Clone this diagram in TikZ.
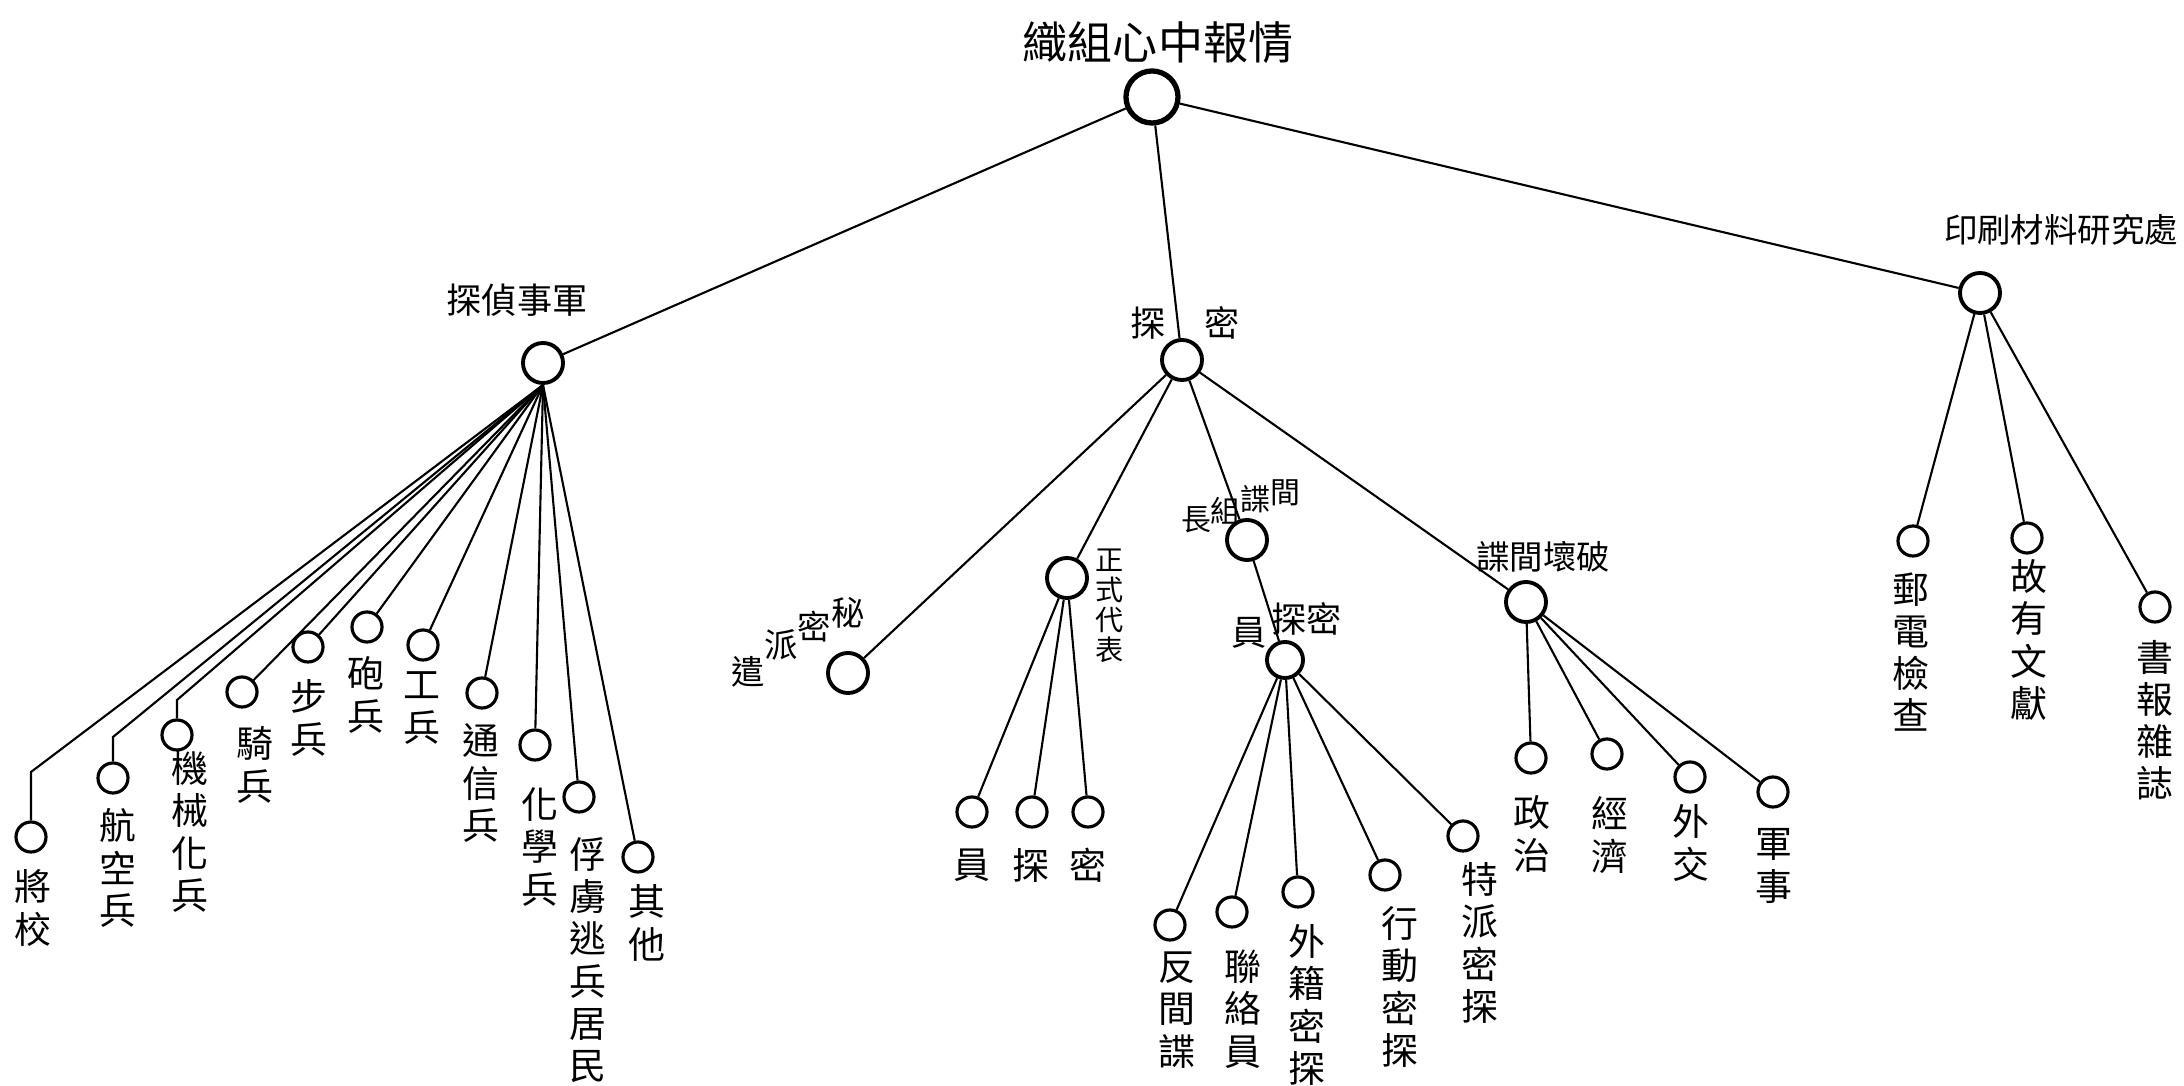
\documentclass[tikz,border=0pt]{standalone}
\usepackage{fontspec}
\newfontfamily\cjk{Noto Sans CJK TC}

\begin{document}
\begin{tikzpicture}[x=0.01cm,y=-0.01cm,line width=0.6pt,
    big/.style={circle,draw,line width=1.1pt,minimum size=4mm,inner sep=0},
    leaf/.style={circle,draw,line width=0.9pt,minimum size=3mm,inner sep=0},
    vtxt/.style={font=\cjk\fontsize{10.5}{12}\selectfont,align=center,inner sep=0},
    htxt/.style={font=\cjk\fontsize{9.5}{10}\selectfont,inner sep=0}]
  \useasboundingbox (0,0) rectangle (2184,1086);

  % top level
  \node[big,minimum size=5.2mm,line width=1.5pt] (root) at (1152,97) {};
  \node[font=\cjk\fontsize{12.8}{14}\selectfont,inner sep=0] (rootl) at (1158,43) {織組心中報情};
  \node[big] (mil) at (543,363) {};
  \node[htxt,font=\cjk\fontsize{10}{11}\selectfont] (mill) at (517,300) {探偵事軍};
  \node[big] (spy) at (1182,360) {};
  \node[htxt,font=\cjk\fontsize{10}{11}\selectfont] (spyl) at (1185,323) {探\hspace{1.1em}密};
  \node[big] (pr) at (1980,293) {};
  \node[htxt] (prl) at (2061,230) {印刷材料研究處};
  \draw (root) -- (mil);
  \draw (root) -- (spy);
  \draw (root) -- (pr);

  % military branch
  \foreach \n/\x/\y/\lx/\ly/\lab in {qi/242/692/255/765/{騎\\兵},
      bu/308/647/309/718/{步\\兵}, pa/367/627/366/695/{砲\\兵},
      gg/423/645/422/708/{工\\兵}, tx/482/693/481/783/{通\\信\\兵},
      hx/535/745/540/847/{化\\學\\兵},
      fl/579/797/588/960/{俘\\虜\\逃\\兵\\居\\民},
      qt/638/857/647/923/{其\\他}}{
    \node[leaf] (\n) at (\x,\y) {};
    \node[vtxt] (t\n) at (\lx,\ly) {\lab};
    \draw (mil.south) -- (\n);
  }
  \foreach \n/\x/\y/\by/\lx/\ly/\lab in {jx/31/837/772/33/908/{將\\校},
      hk/113/778/737/118/868/{航\\空\\兵},
      jy/177/735/700/190/832/{機\\械\\化\\兵}}{
    \node[leaf] (\n) at (\x,\y) {};
    \node[vtxt] (t\n) at (\lx,\ly) {\lab};
    \draw (mil.south) -- (\n |- 0,\by) -- (\n);
  }

  % secret agents
  \node[big] (mp) at (848,673) {};
  \node[htxt,anchor=base west] (mpl) at (730,685)
    {遣\raisebox{7.7pt}{派}\raisebox{12.8pt}{密}\raisebox{16.8pt}{秘}};
  \node[big] (zs) at (1067,578) {};
  \node[vtxt,font=\cjk\fontsize{8}{8.5}\selectfont] (zsl) at (1110,606) {正\\式\\代\\表};
  \node[big] (jz) at (1247,540) {};
  \node[htxt,font=\cjk\fontsize{8.5}{9}\selectfont,anchor=base west] (jzl) at (1180,531)
    {長\raisebox{2.3pt}{組}\raisebox{5.7pt}{諜}\raisebox{7.7pt}{間}};
  \node[big,minimum size=3.6mm] (ag) at (1285,660) {};
  \node[htxt,font=\cjk\fontsize{10}{11}\selectfont,anchor=base west] (agl) at (1230,646)
    {員\hspace{1.4pt}\raisebox{3.7pt}{探密}};
  \node[big] (pj) at (1526,602) {};
  \node[htxt] (pjl) at (1543,557) {諜間壞破};
  \foreach \n in {mp,zs,jz,pj}
    \draw (spy) -- (\n);
  \draw (jz) -- (ag);

  \foreach \n/\x/\y/\lx/\ly/\lab in {yy/972/812/972/865/員,
      tt/1032/812/1031/865/探, mm/1088/812/1088/865/密}{
    \node[leaf] (\n) at (\x,\y) {};
    \node[vtxt] (t\n) at (\lx,\ly) {\lab};
    \draw (zs) -- (\n);
  }
  \foreach \n/\x/\y/\lx/\ly/\lab in {fj/1170/925/1177/1010/{反\\間\\諜},
      ll/1232/912/1243/1009/{聯\\絡\\員},
      wj/1298/892/1307/1005/{外\\籍\\密\\探},
      xd/1385/875/1400/987/{行\\動\\密\\探},
      tp/1463/836/1480/943/{特\\派\\密\\探}}{
    \node[leaf] (\n) at (\x,\y) {};
    \node[vtxt] (t\n) at (\lx,\ly) {\lab};
    \draw (ag) -- (\n);
  }
  \foreach \n/\x/\y/\lx/\ly/\lab in {zz/1531/758/1532/834/{政\\治},
      jj/1607/754/1610/835/{經\\濟}, wx/1690/777/1691/843/{外\\交},
      js/1773/792/1774/866/{軍\\事}}{
    \node[leaf] (\n) at (\x,\y) {};
    \node[vtxt] (t\n) at (\lx,\ly) {\lab};
    \draw (pj) -- (\n);
  }

  % printing office
  \foreach \n/\x/\y/\lx/\ly/\lab in {yd/1913/541/1911/652/{郵\\電\\檢\\查},
      gy/2027/538/2029/640/{故\\有\\文\\獻},
      sb/2155/607/2155/720/{書\\報\\雜\\誌}}{
    \node[leaf] (\n) at (\x,\y) {};
    \node[vtxt] (t\n) at (\lx,\ly) {\lab};
    \draw (pr) -- (\n);
  }
\end{tikzpicture}
\end{document}
